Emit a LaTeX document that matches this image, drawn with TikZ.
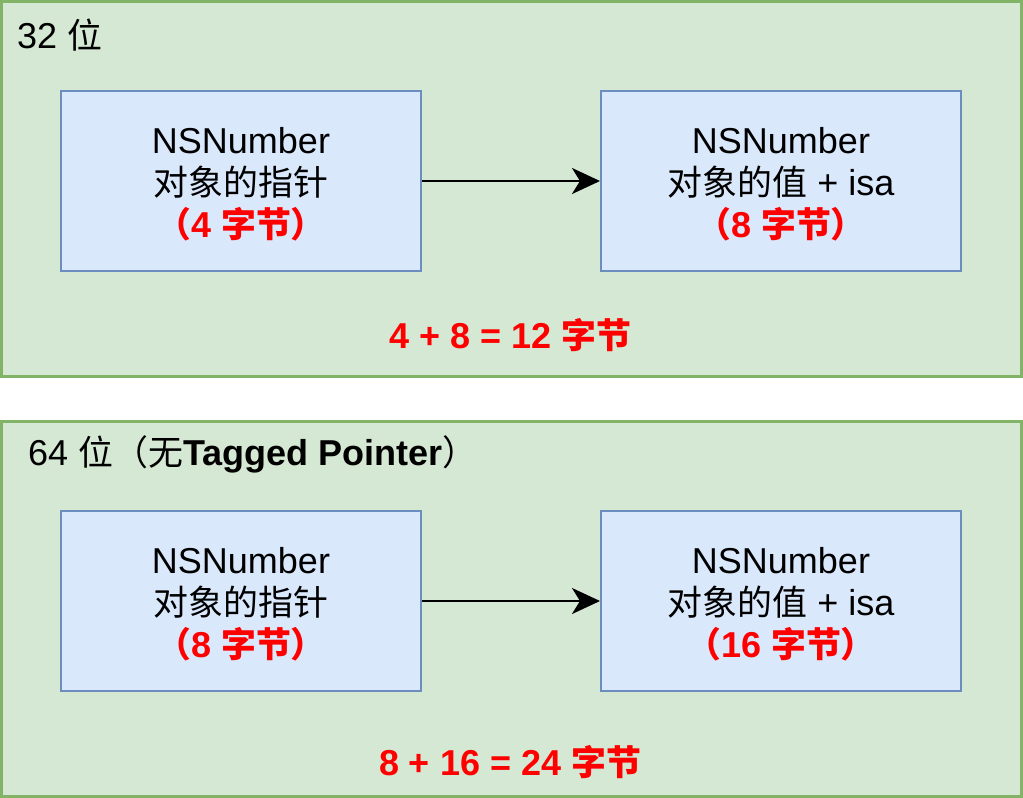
\documentclass[tikz,border=0pt]{standalone}
\usepackage{fontspec}
\setmainfont{Liberation Sans}
\newfontfamily\cjk[Scale=0.97]{Noto Sans CJK SC}
\usetikzlibrary{arrows.meta}
\definecolor{gfill}{HTML}{D5E8D4}
\definecolor{gdraw}{HTML}{82B366}
\definecolor{bfill}{HTML}{DAE8FC}
\definecolor{bdraw}{HTML}{6C8EBF}
\definecolor{red0}{HTML}{FF0000}
\tikzset{
  group/.style={draw=gdraw, fill=gfill, line width=2.5pt},
  obj/.style={draw=bdraw, fill=bfill, line width=2pt, minimum width=360pt, minimum height=180pt, align=center, inner sep=0pt, font=\fontsize{36}{42}\selectfont},
  link/.style={line width=2.6pt, -{Stealth[length=28pt,width=26pt,inset=8pt]}},
  lbl/.style={font=\fontsize{36}{40}\selectfont, inner sep=0pt},
  sum/.style={font=\fontsize{36}{40}\selectfont\bfseries, text=red0, inner sep=0pt}
}
\newcommand{\rd}[1]{{\color{red0}\bfseries #1}}
\newcommand{\lift}{\rule{0pt}{32pt}}
\begin{document}
\begin{tikzpicture}[x=1pt,y=-1pt]
\useasboundingbox (0,0) rectangle (1023,798);
% top group
\path[group] (1.5,1.5) rectangle (1021.5,376.5);
\node[lbl, anchor=west] (t1) at (17,35) {32 {\cjk 位}};
\node[obj] (p1) at (241,181) {\lift NSNumber\\{\cjk 对象的指针}\\\rd{\cjk （}\rd{4 }\rd{\cjk 字节）}};
\node[obj] (v1) at (781,181) {\lift NSNumber\\{\cjk 对象的值} + isa\\\rd{\cjk （}\rd{8 }\rd{\cjk 字节）}};
\draw[link] (p1.east) -- (v1.west);
\node[sum] (s1) at (510,335) {4 + 8 = 12 {\cjk 字节}};
% bottom group
\path[group] (1.5,421.5) rectangle (1021.5,796.5);
\node[lbl, anchor=west] (t2) at (28,454) {64 {\cjk 位（无}\textbf{Tagged Pointer}{\cjk ）}};
\node[obj] (p2) at (241,601) {\lift NSNumber\\{\cjk 对象的指针}\\\rd{\cjk （}\rd{8 }\rd{\cjk 字节）}};
\node[obj] (v2) at (781,601) {\lift NSNumber\\{\cjk 对象的值} + isa\\\rd{\cjk （}\rd{16 }\rd{\cjk 字节）}};
\draw[link] (p2.east) -- (v2.west);
\node[sum] (s2) at (510,762) {8 + 16 = 24 {\cjk 字节}};
\end{tikzpicture}
\end{document}
